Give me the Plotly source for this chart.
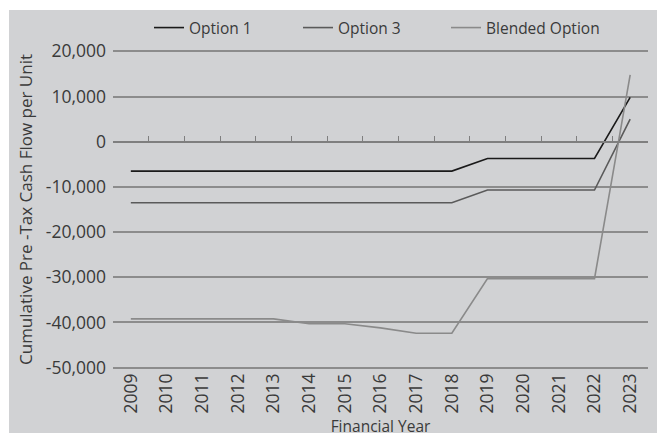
import plotly.graph_objects as go

# Financial years on the category axis
years = [str(y) for y in range(2009, 2024)]

# Cumulative pre-tax cash flow per unit for each option
option_1 = [-6500, -6500, -6500, -6500, -6500, -6500, -6500, -6500, -6500, -6500,
            -3700, -3700, -3700, -3700, 9800]
option_3 = [-13500, -13500, -13500, -13500, -13500, -13500, -13500, -13500, -13500, -13500,
            -10700, -10700, -10700, -10700, 5000]
blended = [-39200, -39200, -39200, -39200, -39200, -40300, -40300, -41200, -42400, -42400,
           -30300, -30300, -30300, -30300, 14800]

# Value axis ticks (hyphen-minus labels)
y_ticks = [20000, 10000, 0, -10000, -20000, -30000, -40000, -50000]
y_tick_text = ["20,000", "10,000", "0", "-10,000", "-20,000", "-30,000", "-40,000", "-50,000"]
y_min, y_max = -50000, 20000
pad = 300  # keeps the outer gridlines inside the plotting area

FONT = "Open Sans"
TEXT = "#3a3a3a"
GRID = "#8c8c8c"
PANEL = "#d1d2d4"

W, H = 657, 437
M_L, M_R, M_T, M_B = 113, 9, 50, 68
plot_w = W - M_L - M_R
plot_h = H - M_T - M_B


def px_to_paper_x(px):
    return (px - M_L) / plot_w


def py_to_paper_y(py):
    return (H - M_B - py) / plot_h


fig = go.Figure()

# one single-entry legend per series, laid out left to right
series = [
    ("Option 1", option_1, "#1a1a1a", "legend", 149),
    ("Option 3", option_3, "#5a5a5a", "legend2", 298),
    ("Blended Option", blended, "#8a8a8a", "legend3", 446),
]
legend_layout = {}
for name, vals, color, leg, left_px in series:
    fig.add_trace(go.Scatter(
        x=years, y=vals, name=name, mode="lines", legend=leg,
        line=dict(color=color, width=1.6),
    ))
    legend_layout[leg] = dict(
        x=px_to_paper_x(left_px), xanchor="left",
        y=py_to_paper_y(28), yanchor="middle",
        font=dict(family=FONT, size=15.5, color=TEXT),
        bgcolor="rgba(0,0,0,0)", borderwidth=0,
    )

# Invisible trace carrying the category axis drawn through zero
fig.add_trace(go.Scatter(
    x=years, y=[0] * len(years), xaxis="x2", mode="lines",
    line=dict(width=0), hoverinfo="skip", showlegend=False,
))

lo, hi = y_min - pad, y_max + pad
zero_pos = (0 - lo) / (hi - lo)

fig.update_layout(
    width=W, height=H,
    margin=dict(l=M_L, r=M_R, t=M_T, b=M_B),
    paper_bgcolor="white",
    plot_bgcolor="rgba(0,0,0,0)",
    font=dict(family=FONT, size=15, color=TEXT),
    showlegend=True,
    **legend_layout,
    xaxis=dict(
        type="category", categoryorder="array", categoryarray=years,
        range=[-0.5, len(years) - 0.5],
        showgrid=False, showline=False, zeroline=False,
        ticks="", tickangle=-90, automargin=False,
        tickfont=dict(family=FONT, size=17.5, color=TEXT),
        title=dict(text="Financial Year", standoff=8,
                   font=dict(family=FONT, size=15.5, color=TEXT)),
    ),
    xaxis2=dict(
        type="category", categoryorder="array", categoryarray=years,
        range=[-0.5, len(years) - 0.5],
        overlaying="x", anchor="free", position=zero_pos, side="bottom",
        showline=True, linecolor="#7f7f7f", linewidth=2,
        ticks="inside", tickson="boundaries", ticklen=5,
        tickcolor="#7f7f7f", tickwidth=1,
        showticklabels=False, showgrid=False, zeroline=False,
    ),
    yaxis=dict(
        range=[lo, hi],
        tickvals=y_ticks, ticktext=y_tick_text,
        showgrid=True, gridcolor=GRID, gridwidth=1.5,
        zeroline=False, showline=False, ticks="", automargin=False,
        tickfont=dict(family=FONT, size=17.5, color=TEXT),
        ticklabelstandoff=6,
        title=dict(text="Cumulative Pre -Tax Cash Flow per Unit", standoff=8,
                   font=dict(family=FONT, size=17, color=TEXT)),
    ),
    shapes=[
        # grey chart panel behind everything
        dict(type="rect", xref="paper", yref="paper", layer="below",
             x0=px_to_paper_x(9), x1=px_to_paper_x(657),
             y0=py_to_paper_y(433), y1=py_to_paper_y(10),
             fillcolor=PANEL, line=dict(width=0)),
    ],
)

fig.write_html("out.html")
